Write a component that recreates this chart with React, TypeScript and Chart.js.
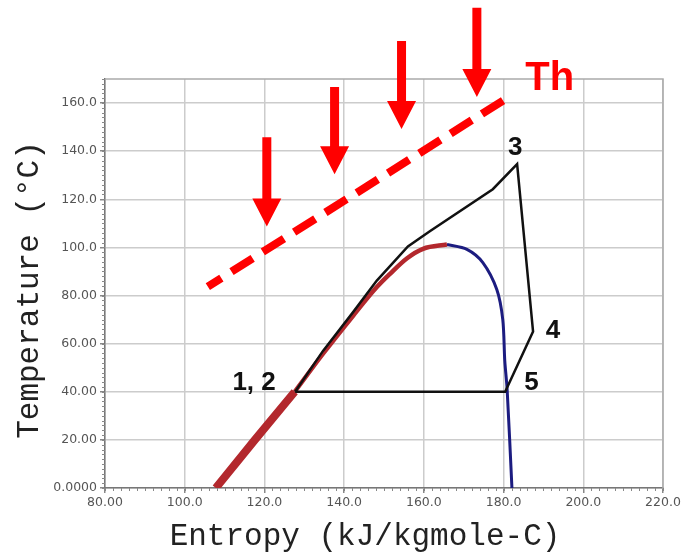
import React, { useEffect, useRef } from 'react';
import { Chart, registerables } from 'chart.js';

Chart.register(...registerables);

// ---- Data ----
const xTicks = [80, 100, 120, 140, 160, 180, 200, 220];
const xTickLabels = ['80.00', '100.0', '120.0', '140.0', '160.0', '180.0', '200.0', '220.0'];
const yTicks = [0, 20, 40, 60, 80, 100, 120, 140, 160];
const yTickLabels = ['0.0000', '20.00', '40.00', '60.00', '80.00', '100.0', '120.0', '140.0', '160.0'];

// saturated liquid (lower thick part and upper part)
const liquidLowS = [107.8, 117.6, 127.6];
const liquidLowT = [0, 20, 40];
const liquidHighS = [127.6, 134.7, 142.2, 148.2, 151.5, 155.8, 159.8, 165.8];
const liquidHighT = [40, 55.8, 71.5, 83.5, 89, 95.5, 99.4, 101.2];
// saturated vapour
const vaporS = [165.8, 170.8, 174.8, 178.3, 179.8, 180.3, 180.9, 182.1];
const vaporT = [101.2, 99.2, 93.7, 82.5, 70, 53, 40.8, 0];
// cycle 1,2 -> 3 -> 4 -> 5 -> 1,2
const cycleS = [127.7, 134.7, 142.2, 148.2, 156, 161.5, 177.3, 183.4, 187.4, 180.4, 127.7];
const cycleT = [40, 57.0, 73.0, 86.2, 100.4, 106.7, 124.2, 134.6, 65, 40, 40];
// heat source temperature line Th
const thS = [105.8, 182.4];
const thT = [83.7, 163.7];
// heat arrows
const arrowS = [120.6, 137.6, 154.4, 173.3];
const arrowTopT = [145.8, 166.7, 185.8, 199.6];
const arrowTipT = [108.7, 130.4, 149.2, 162.5];
// state labels
const pointLabels = ['1, 2', '3', '4', '5'];
const pointLabelS = [117.4, 182.9, 192.4, 187.0];
const pointLabelT = [43.7, 141.5, 65.4, 43.7];
const thLabel = 'Th';
const thLabelS = 191.6;
const thLabelT = 170.2;

const xTitle = 'Entropy (kJ/kgmole-C)';
const yTitle = 'Temperature (°C)';

const toPts = (xs: number[], ys: number[]) => xs.map((x, i) => ({ x, y: ys[i] }));

const overlay = {
  id: 'overlay',
  afterDraw(chart: any) {
    const { ctx, chartArea: a, scales } = chart;
    const xs = scales.x;
    const ys = scales.y;
    ctx.save();
    // frame
    ctx.strokeStyle = '#aaaaaa';
    ctx.lineWidth = 1.5;
    ctx.beginPath();
    ctx.moveTo(a.left, a.top);
    ctx.lineTo(a.right, a.top);
    ctx.lineTo(a.right, a.bottom);
    ctx.stroke();
    // minor ticks
    ctx.strokeStyle = '#888888';
    ctx.lineWidth = 1;
    ctx.beginPath();
    for (let v = 0; v <= 170; v += 2) {
      const py = Math.round(ys.getPixelForValue(v)) + 0.5;
      ctx.moveTo(a.left - 3, py);
      ctx.lineTo(a.left, py);
    }
    for (let v = 80; v <= 220; v += 2) {
      const px = Math.round(xs.getPixelForValue(v)) + 0.5;
      ctx.moveTo(px, a.bottom);
      ctx.lineTo(px, a.bottom + 3);
    }
    ctx.stroke();
    // arrows
    ctx.fillStyle = '#ff0000';
    for (let i = 0; i < arrowS.length; i++) {
      const x = xs.getPixelForValue(arrowS[i]);
      const yTop = ys.getPixelForValue(arrowTopT[i]);
      const yTip = ys.getPixelForValue(arrowTipT[i]);
      const headLen = 28;
      const headHalf = 14.5;
      const shaftHalf = 4.5;
      ctx.beginPath();
      ctx.moveTo(x - shaftHalf, yTop);
      ctx.lineTo(x + shaftHalf, yTop);
      ctx.lineTo(x + shaftHalf, yTip - headLen);
      ctx.lineTo(x + headHalf, yTip - headLen);
      ctx.lineTo(x, yTip);
      ctx.lineTo(x - headHalf, yTip - headLen);
      ctx.lineTo(x - shaftHalf, yTip - headLen);
      ctx.closePath();
      ctx.fill();
    }
    // state labels
    ctx.fillStyle = '#111111';
    ctx.font = 'bold 26px "Liberation Sans", Arial, sans-serif';
    ctx.textAlign = 'center';
    ctx.textBaseline = 'middle';
    for (let i = 0; i < pointLabels.length; i++) {
      ctx.fillText(pointLabels[i], xs.getPixelForValue(pointLabelS[i]), ys.getPixelForValue(pointLabelT[i]));
    }
    ctx.fillStyle = '#ff0000';
    ctx.font = 'bold 40px "Liberation Sans", Arial, sans-serif';
    ctx.fillText(thLabel, xs.getPixelForValue(thLabelS), ys.getPixelForValue(thLabelT));
    // axis titles
    ctx.fillStyle = '#222222';
    ctx.font = '31px "Liberation Mono", monospace';
    ctx.fillText(xTitle, 365, 537);
    ctx.translate(30, 290);
    ctx.rotate(-Math.PI / 2);
    ctx.fillText(yTitle, 0, 0);
    ctx.restore();
  },
};

export default function App() {
  const ref = useRef<HTMLCanvasElement | null>(null);
  useEffect(() => {
    document.body.style.margin = '0';
    const canvas = ref.current;
    if (!canvas) return;
    const tickFont = { family: '"DejaVu Sans", sans-serif', size: 12.5 };
    const chart = new Chart(canvas, {
      type: 'scatter',
      data: {
        datasets: [
          {
            data: toPts(cycleS, cycleT),
            showLine: true,
            borderColor: '#111111',
            borderWidth: 2.5,
            pointRadius: 0,
            order: 0,
          },
          {
            data: toPts(liquidHighS, liquidHighT),
            showLine: true,
            borderColor: '#b3282d',
            borderWidth: 4.5,
            pointRadius: 0,
            cubicInterpolationMode: 'monotone',
            order: 1,
          },
          {
            data: toPts(liquidLowS, liquidLowT),
            showLine: true,
            borderColor: '#b3282d',
            borderWidth: 8,
            pointRadius: 0,
            order: 1,
          },
          {
            data: toPts(vaporS, vaporT),
            showLine: true,
            borderColor: '#1c1c80',
            borderWidth: 3,
            pointRadius: 0,
            tension: 0.3,
            order: 2,
          },
          {
            data: toPts(thS, thT),
            showLine: true,
            borderColor: '#ff0000',
            borderWidth: 8,
            borderDash: [25, 12],
            borderDashOffset: 9,
            borderCapStyle: 'butt',
            pointRadius: 0,
            order: 3,
          },
        ],
      },
      options: {
        animation: false,
        responsive: false,
        events: [],
        layout: { padding: { top: 79, right: 21, left: 0, bottom: 0 } },
        plugins: { legend: { display: false }, tooltip: { enabled: false } },
        scales: {
          x: {
            type: 'linear',
            min: 80,
            max: 220,
            afterFit: (s: any) => {
              s.height = 64;
            },
            afterBuildTicks: (s: any) => {
              s.ticks = xTicks.map((v) => ({ value: v }));
            },
            ticks: {
              autoSkip: false,
              maxRotation: 0,
              padding: 2,
              color: '#555555',
              font: tickFont,
              callback: (v: any) => xTickLabels[xTicks.indexOf(Number(v))] ?? '',
            },
            grid: { color: '#cccccc', lineWidth: 1.5, tickLength: 5, tickColor: '#888888' },
            border: { color: '#777777', width: 1.5 },
          },
          y: {
            type: 'linear',
            min: 0,
            max: 170,
            afterFit: (s: any) => {
              s.width = 105;
            },
            afterBuildTicks: (s: any) => {
              s.ticks = yTicks.map((v) => ({ value: v }));
            },
            ticks: {
              autoSkip: false,
              padding: 3,
              color: '#555555',
              font: tickFont,
              callback: (v: any) => yTickLabels[yTicks.indexOf(Number(v))] ?? '',
            },
            grid: { color: '#cccccc', lineWidth: 1.5, tickLength: 5, tickColor: '#888888' },
            border: { color: '#777777', width: 1.5 },
          },
        },
      },
      plugins: [overlay],
    });
    return () => chart.destroy();
  }, []);
  return (
    <div style={{ position: 'absolute', left: 0, top: 0, width: 684, height: 552, background: '#ffffff' }}>
      <canvas ref={ref} width={684} height={552} style={{ display: 'block', width: 684, height: 552 }} />
    </div>
  );
}
